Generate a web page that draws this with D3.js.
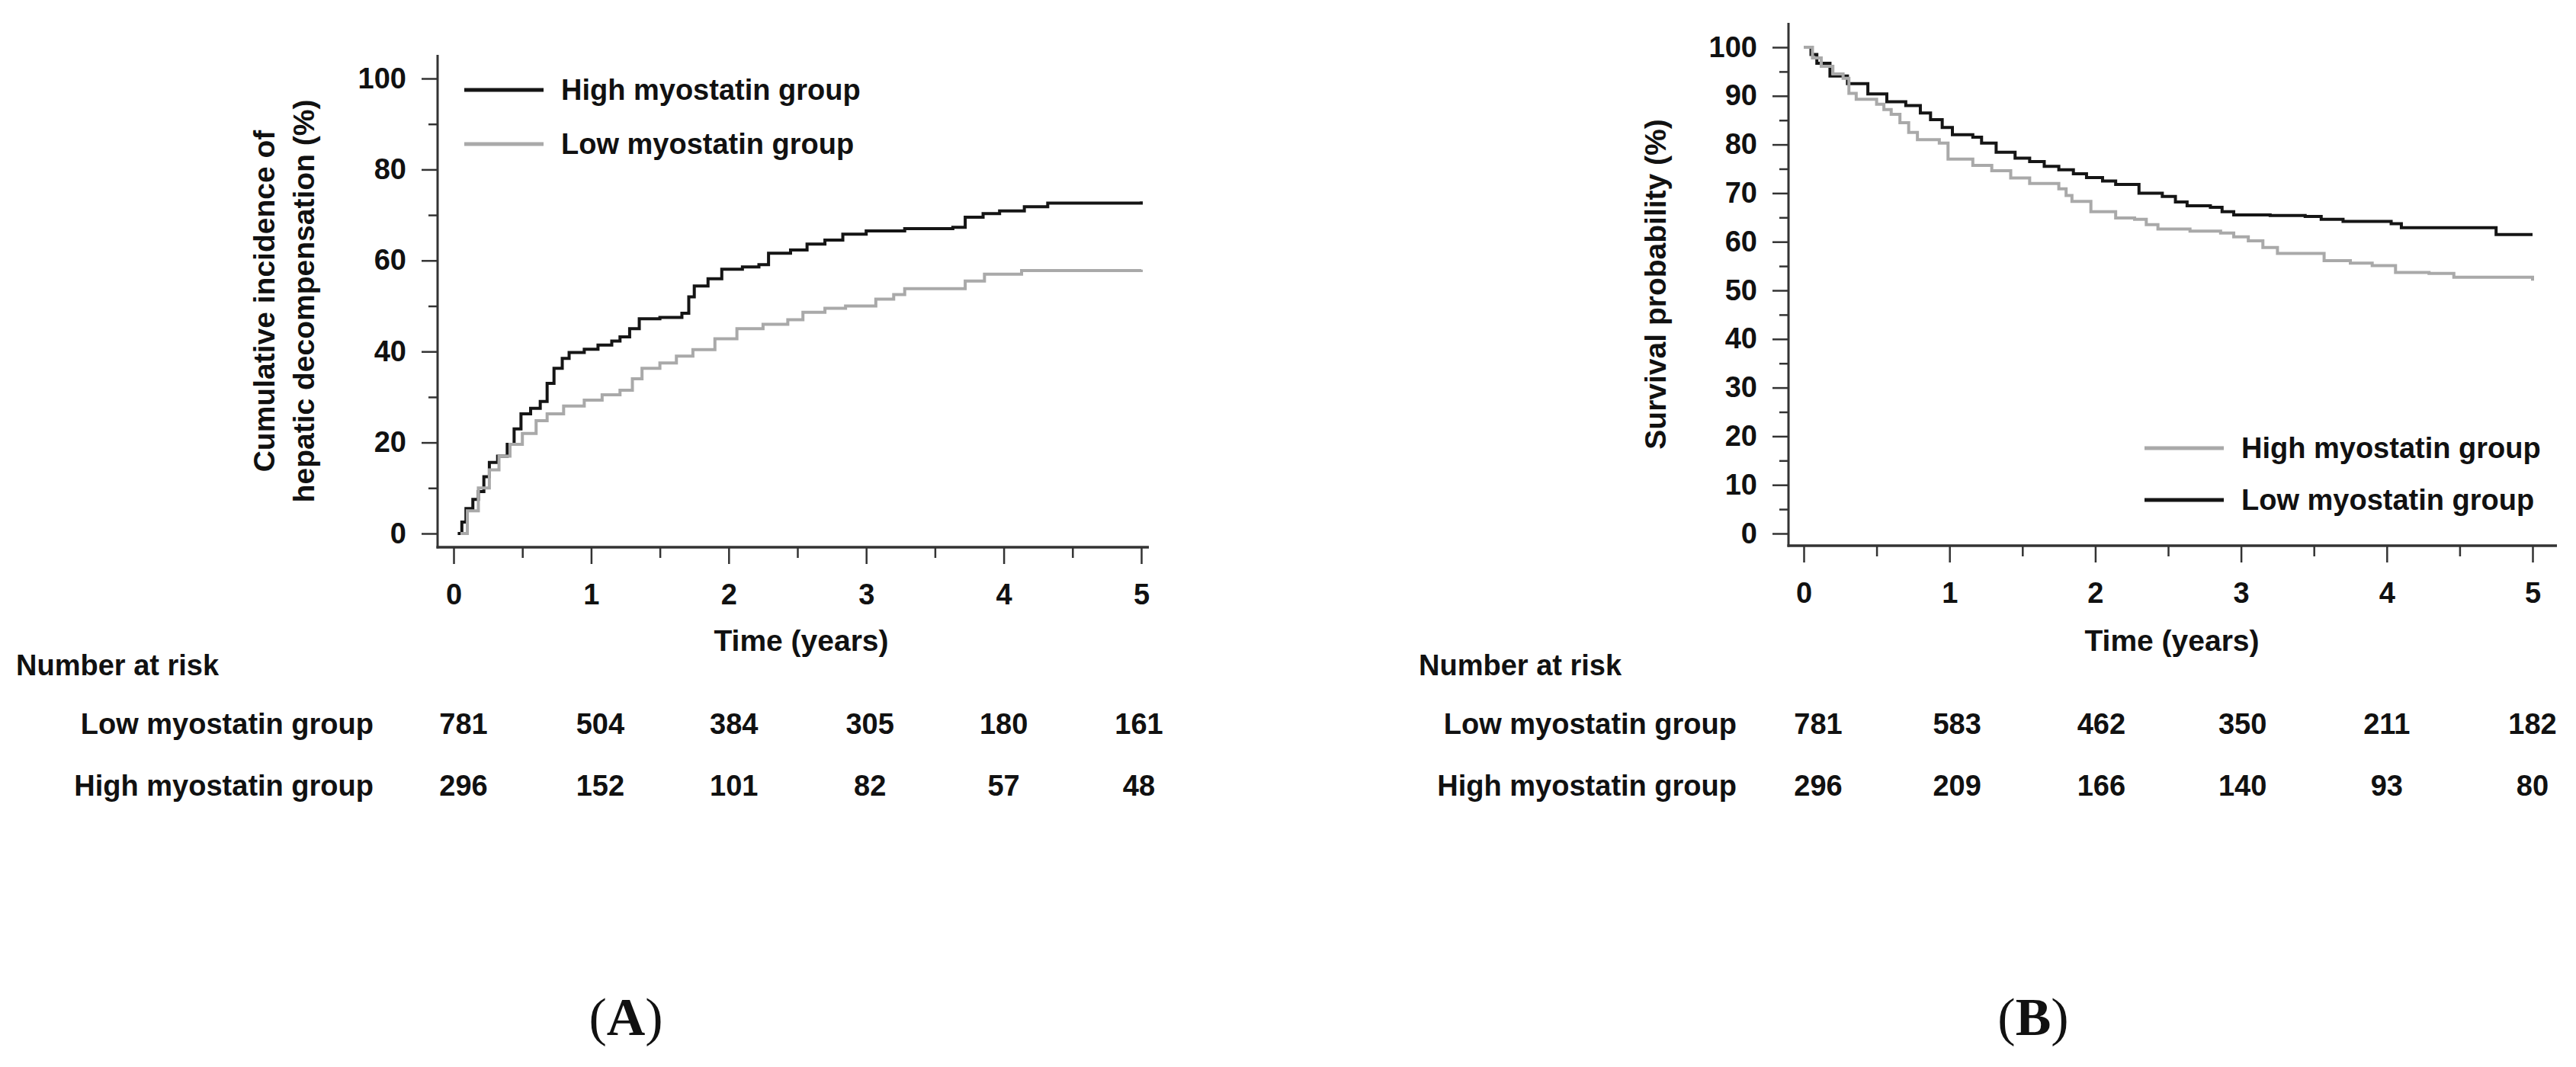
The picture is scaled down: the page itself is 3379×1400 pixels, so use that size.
<!DOCTYPE html>
<html>
<head>
<meta charset="utf-8">
<script src="https://cdn.jsdelivr.net/npm/d3@7"></script>
<style>
  body { margin: 0; background: #fff; }
  text { font-family: "Liberation Sans", Arial, sans-serif; font-weight: bold; fill: #111; }
  .panel-label { font-family: "Liberation Serif", "Times New Roman", serif; font-weight: normal; }
</style>
</head>
<body>
<svg id="chart" width="3379" height="1400"></svg>
<script>
// ---- data ----
// panel A: cumulative incidence of hepatic decompensation, [years, %]
const aHigh = [[0.03,0],[0.06,2.5],[0.09,5.5],[0.14,7.5],[0.18,9.2],[0.22,12.5],[0.26,15.6],[0.32,17],[0.39,19.6],
  [0.44,23],[0.49,26.3],[0.56,27.5],[0.63,29],[0.68,33],[0.73,36.3],[0.79,38.5],[0.84,39.8],[0.95,40.5],[1.05,41.4],
  [1.15,42.3],[1.21,43.2],[1.28,45],[1.35,47.2],[1.5,47.5],[1.66,48.4],[1.71,52],[1.75,54.4],[1.85,56],[1.95,58.1],
  [2.1,58.6],[2.22,59.1],[2.29,61.6],[2.45,62.3],[2.57,63.6],[2.7,64.5],[2.83,65.8],[3.0,66.5],[3.28,67],[3.63,67.3],
  [3.72,69.5],[3.85,70.3],[3.97,70.9],[4.15,71.8],[4.32,72.6],[4.95,72.6],[5.0,73]];
const aLow = [[0.05,0],[0.1,5],[0.18,10],[0.26,14],[0.33,17],[0.41,19.6],[0.5,22],[0.6,24.8],[0.68,26.3],[0.8,28],
  [0.95,29.3],[1.08,30.5],[1.21,31.5],[1.3,34],[1.37,36.3],[1.5,37.5],[1.62,39],[1.74,40.4],[1.9,42.8],[2.06,45],
  [2.25,46],[2.43,47],[2.54,48.6],[2.7,49.5],[2.85,50],[3.07,51.5],[3.2,52.5],[3.28,53.8],[3.59,53.8],[3.72,55.5],
  [3.86,57],[4.13,57.8],[4.5,57.8],[5.0,58]];

// panel B: survival probability, [years, %]
const bLow = [[0,100],[0.05,98.5],[0.09,96.7],[0.18,94.1],[0.3,92.5],[0.44,90.4],[0.57,88.8],[0.7,88],[0.8,86.5],
  [0.87,85.1],[0.95,83.5],[1.02,82],[1.16,81.5],[1.22,80.3],[1.32,78.4],[1.45,77.2],[1.55,76.5],[1.65,75.5],[1.75,74.8],
  [1.85,74],[1.94,73.2],[2.05,72.5],[2.14,71.8],[2.3,70],[2.46,69.3],[2.55,68.2],[2.63,67.4],[2.79,67.1],[2.87,66.2],
  [2.95,65.5],[3.2,65.4],[3.44,65.2],[3.55,64.6],[3.7,64.2],[4.03,63.7],[4.1,62.9],[4.65,62.9],[4.75,61.5],[5.0,61.5]];
const bHigh = [[0,100],[0.06,97.8],[0.12,96.1],[0.2,94.5],[0.27,93.6],[0.31,90.5],[0.36,89.3],[0.5,88.3],[0.55,87.2],
  [0.6,86.2],[0.66,84.5],[0.72,82.5],[0.78,81],[0.93,80.3],[0.99,77],[1.16,75.7],[1.29,74.6],[1.42,73.1],[1.55,72],
  [1.75,70.9],[1.8,69.5],[1.84,68.3],[1.97,66.2],[2.14,64.9],[2.27,64.6],[2.35,63.5],[2.43,62.6],[2.65,62.2],[2.86,61.8],
  [2.95,61],[3.05,60.2],[3.15,58.8],[3.25,57.6],[3.51,57.6],[3.57,56.1],[3.75,55.6],[3.9,55.1],[4.06,53.7],[4.29,53.5],
  [4.46,52.7],[4.94,52.7],[5.0,52]];

// number at risk
const riskTimes = [0, 1, 2, 3, 4, 5];
const riskALow = [781, 504, 384, 305, 180, 161];
const riskAHigh = [296, 152, 101, 82, 57, 48];
const riskBLow = [781, 583, 462, 350, 211, 182];
const riskBHigh = [296, 209, 166, 140, 93, 80];

const xTicks = [0, 1, 2, 3, 4, 5];
const xMinor = [0.5, 1.5, 2.5, 3.5, 4.5];
const yTicksA = [0, 20, 40, 60, 80, 100];
const yMinorA = [10, 30, 50, 70, 90];
const yTicksB = [0, 10, 20, 30, 40, 50, 60, 70, 80, 90, 100];
const yMinorB = [5, 15, 25, 35, 45, 55, 65, 75, 85, 95];

const BLACK = '#151515', GREY = '#a9a9a9';

const svg = d3.select('#chart');

drawPanel({
  x0: 595, x5: 1497, y0: 700, y100: 103,
  axisX: 574, axisY: 718, axisTop: 72, axisRight: 1507,
  yTicks: yTicksA, yMinor: yMinorA,
  yTitle: ['Cumulative incidence of', 'hepatic decompensation (%)'], yTitleX: [360, 412], yTitleY: 395,
  series: [{data: aHigh, color: BLACK}, {data: aLow, color: GREY}],
  legend: [{name: 'High myostatin group', color: BLACK, y: 118}, {name: 'Low myostatin group', color: GREY, y: 189}],
  legendX: 609,
  riskTitleX: 21, riskLabelRight: 490,
  risk: [{name: 'Low myostatin group', vals: riskALow}, {name: 'High myostatin group', vals: riskAHigh}],
  riskShift: [13, 12, 7, 5, 0, -3],
  label: 'A', labelX: 821
});

drawPanel({
  x0: 2366, x5: 3322, y0: 700, y100: 62,
  axisX: 2346, axisY: 716, axisTop: 30, axisRight: 3354,
  yTicks: yTicksB, yMinor: yMinorB,
  yTitle: ['Survival probability (%)'], yTitleX: [2185], yTitleY: 373,
  series: [{data: bLow, color: BLACK}, {data: bHigh, color: GREY}],
  legend: [{name: 'High myostatin group', color: GREY, y: 588}, {name: 'Low myostatin group', color: BLACK, y: 656}],
  legendX: 2813,
  riskTitleX: 1861, riskLabelRight: 2278,
  risk: [{name: 'Low myostatin group', vals: riskBLow}, {name: 'High myostatin group', vals: riskBHigh}],
  riskShift: [19, 10, 8, 2, 0, 0],
  label: 'B', labelX: 2667
});

function drawPanel(p) {
  const x = d3.scaleLinear().domain([0, 5]).range([p.x0, p.x5]);
  const y = d3.scaleLinear().domain([0, 100]).range([p.y0, p.y100]);
  const g = svg.append('g');

  // axes: minor ticks first, then labelled majors
  const yMinorAxis = d3.axisLeft(y).tickValues(p.yMinor).tickSize(12).tickFormat('');
  const yAxis = d3.axisLeft(y).tickValues(p.yTicks).tickSize(21).tickPadding(20).tickFormat(d3.format('d'));
  const xMinorAxis = d3.axisBottom(x).tickValues(xMinor).tickSize(14).tickFormat('');
  const xAxis = d3.axisBottom(x).tickValues(xTicks).tickSize(22).tickPadding(26).tickFormat(d3.format('d'));

  [[yMinorAxis, `translate(${p.axisX},0)`], [yAxis, `translate(${p.axisX},0)`],
   [xMinorAxis, `translate(0,${p.axisY})`], [xAxis, `translate(0,${p.axisY})`]].forEach(([ax, tr]) => {
    const a = g.append('g').attr('transform', tr).call(ax);
    a.select('.domain').remove();
    a.selectAll('.tick line').attr('stroke', '#333').attr('stroke-width', 2.5);
    a.selectAll('.tick text').attr('font-size', 38).attr('fill', '#111')
      .style('font-family', '"Liberation Sans", Arial, sans-serif').style('font-weight', 'bold');
  });

  // axis lines
  g.append('line').attr('x1', p.axisX).attr('x2', p.axisX).attr('y1', p.axisTop).attr('y2', p.axisY + 1.5)
    .attr('stroke', '#333').attr('stroke-width', 3);
  g.append('line').attr('x1', p.axisX - 1.5).attr('x2', p.axisRight).attr('y1', p.axisY).attr('y2', p.axisY)
    .attr('stroke', '#333').attr('stroke-width', 3.5);

  // y title
  p.yTitle.forEach((t, i) => {
    g.append('text')
      .attr('transform', `translate(${p.yTitleX[i]},${p.yTitleY}) rotate(-90)`)
      .attr('text-anchor', 'middle').attr('font-size', 39).text(t);
  });

  // x title
  g.append('text').attr('x', (p.x0 + p.x5) / 2 + 5).attr('y', 854)
    .attr('text-anchor', 'middle').attr('font-size', 39).text('Time (years)');

  // curves
  const line = d3.line().x(d => x(d[0])).y(d => y(d[1])).curve(d3.curveStepAfter);
  p.series.forEach(s => {
    g.append('path').datum(s.data).attr('d', line)
      .attr('fill', 'none').attr('stroke', s.color).attr('stroke-width', 4);
  });

  // legend
  p.legend.forEach(l => {
    g.append('line').attr('x1', p.legendX).attr('x2', p.legendX + 104).attr('y1', l.y).attr('y2', l.y)
      .attr('stroke', l.color).attr('stroke-width', 5);
    g.append('text').attr('x', p.legendX + 127).attr('y', l.y + 13).attr('font-size', 38).text(l.name);
  });

  // number at risk
  g.append('text').attr('x', p.riskTitleX).attr('y', 886).attr('font-size', 38).text('Number at risk');
  p.risk.forEach((r, i) => {
    const by = 963 + i * 81;
    g.append('text').attr('x', p.riskLabelRight).attr('y', by).attr('text-anchor', 'end')
      .attr('font-size', 38).text(r.name);
    g.selectAll(null).data(r.vals).enter().append('text')
      .attr('x', (d, j) => x(riskTimes[j]) + p.riskShift[j]).attr('y', by)
      .attr('text-anchor', 'middle').attr('font-size', 38).text(d => d);
  });

  // panel label
  const lab = g.append('text').attr('class', 'panel-label').attr('x', p.labelX).attr('y', 1358)
    .attr('text-anchor', 'middle').attr('font-size', 70).style('font-weight', 'normal');
  lab.append('tspan').text('(');
  lab.append('tspan').style('font-weight', 'bold').text(p.label);
  lab.append('tspan').text(')');
}
</script>
</body>
</html>
